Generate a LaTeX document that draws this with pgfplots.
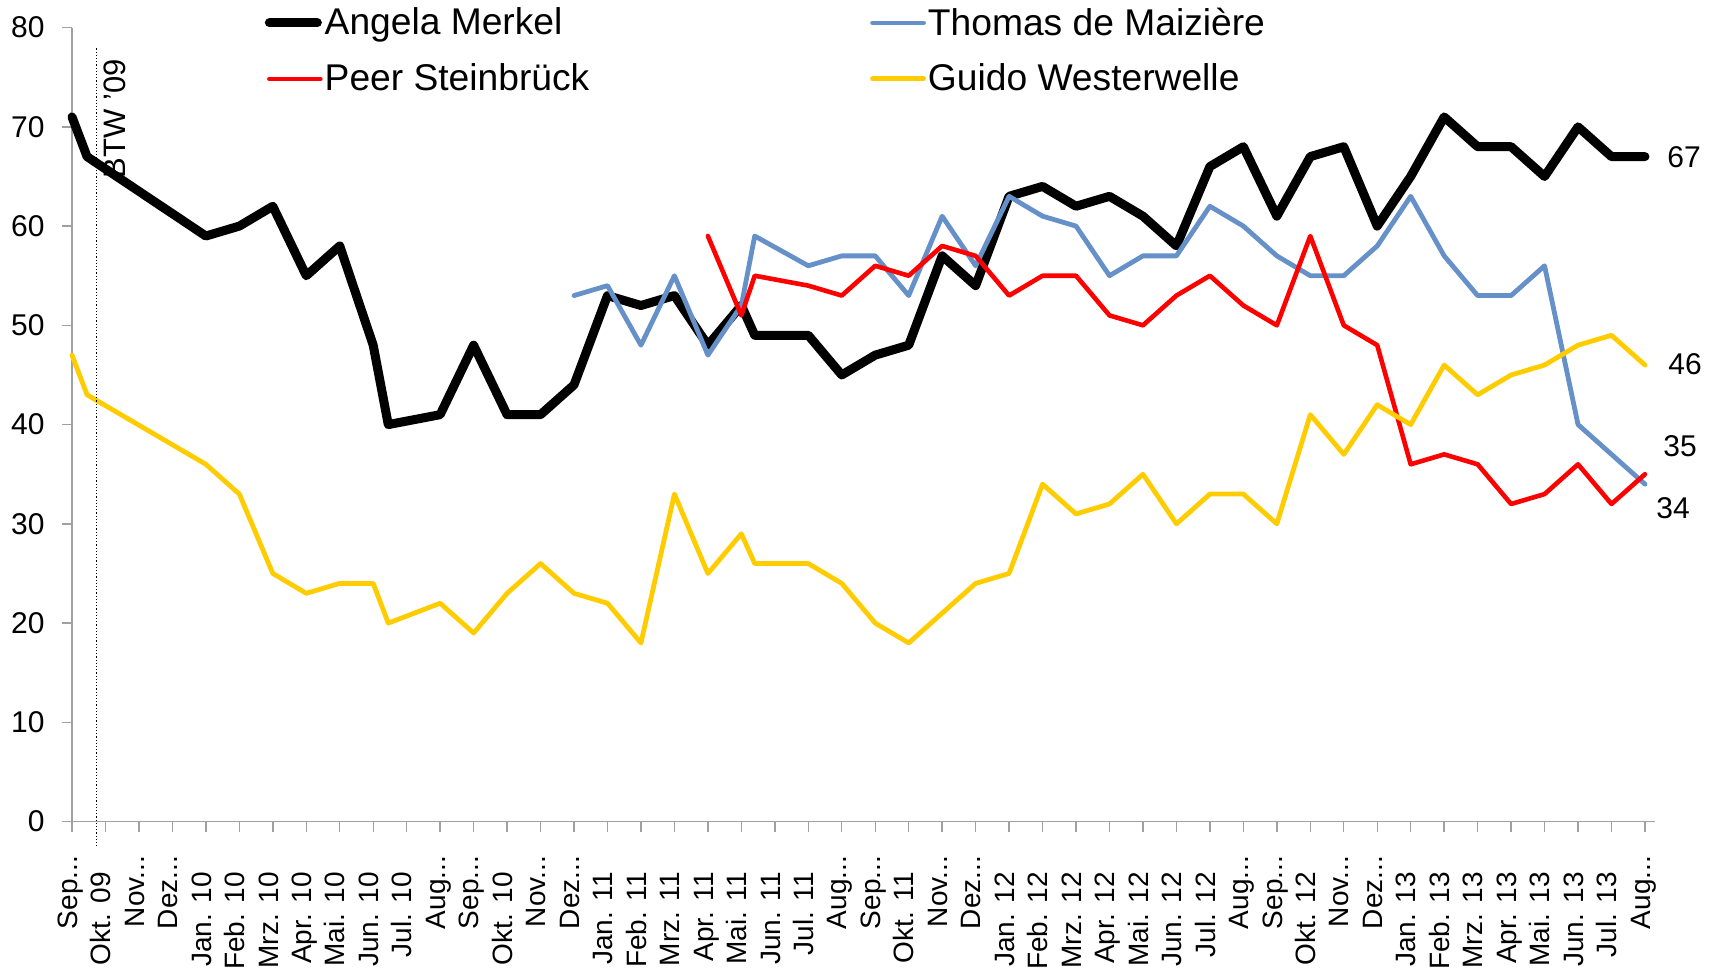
\documentclass[border=0pt]{standalone}
\usepackage{fontspec}
\setmainfont{Liberation Sans}
\usepackage{pgfplots}
\pgfplotsset{compat=1.18}
\definecolor{mblue}{HTML}{6690C8}
\definecolor{mred}{HTML}{FF0000}
\definecolor{myellow}{HTML}{FFCC00}
\definecolor{axgray}{HTML}{A0A0A0}
\newcommand{\fl}[1]{#1\hspace*{8.2pt}}
\newcommand{\dd}{...}
\pgfplotsset{thinleg/.style={legend image code/.code={\draw[##1] (0pt,0pt) -- (25.5pt,0pt);}}}
\begin{document}
\begin{tikzpicture}
\path[use as bounding box] (-36pt,-73.7pt) rectangle (820.5pt,410.8pt);
\begin{axis}[
  at={(0,0)}, anchor=south west,
  scale only axis, width=791.5pt, height=397pt,
  xmin=0, xmax=47.3, ymin=0, ymax=80,
  clip=false,
  axis x line*=bottom, axis y line*=left,
  axis line style={-, axgray, line width=0.8pt},
  tick align=outside, major tick length=5pt,
  tick style={axgray, line width=0.7pt},
  xtick={0,...,47},
  xticklabels={Sep\dd,\fl{Okt. 09},Nov\dd,Dez\dd,\fl{Jan. 10},\fl{Feb. 10},\fl{Mrz. 10},\fl{Apr. 10},\fl{Mai. 10},\fl{Jun. 10},\fl{Jul. 10},Aug\dd,Sep\dd,\fl{Okt. 10},Nov\dd,Dez\dd,\fl{Jan. 11},\fl{Feb. 11},\fl{Mrz. 11},\fl{Apr. 11},\fl{Mai. 11},\fl{Jun. 11},\fl{Jul. 11},Aug\dd,Sep\dd,\fl{Okt. 11},Nov\dd,Dez\dd,\fl{Jan. 12},\fl{Feb. 12},\fl{Mrz. 12},\fl{Apr. 12},\fl{Mai. 12},\fl{Jun. 12},\fl{Jul. 12},Aug\dd,Sep\dd,\fl{Okt. 12},Nov\dd,Dez\dd,\fl{Jan. 13},\fl{Feb. 13},\fl{Mrz. 13},\fl{Apr. 13},\fl{Mai. 13},\fl{Jun. 13},\fl{Jul. 13},Aug\dd},
  xticklabel style={yshift=-12pt, rotate=90, anchor=east, inner sep=0pt, text height=0.72em, text depth=0.2em, font=\fontsize{14}{17}\selectfont},
  ytick={0,10,...,80},
  /pgf/number format/assume math mode=true,
  yticklabel style={anchor=east, inner sep=0pt, xshift=-8.5pt, font=\fontsize{15}{17}\selectfont},
  legend style={at={(0.1216,0.9708)}, anchor=west, draw=none, fill=none, inner sep=0pt,
    font=\fontsize{18.6}{21}\selectfont, nodes={inner sep=1pt},
    /tikz/every even column/.append style={column sep=139.4pt}, row sep=10.9pt},
  legend columns=2,
  legend cell align=left,
  legend image code/.code={\draw[#1] (0pt,0pt) -- (24pt,0pt);},
]
\addplot[black, line width=4.5pt, line join=round, line cap=round] coordinates {
(0,71) (0.45,67) (4,59) (5,60) (6,62) (7,55) (8,58) (9,48) (9.45,40) (11,41) (12,48) (13,41) (14,41) (15,44) (16,53) (17,52) (18,53) (19,48) (20,52) (20.4,49) (22,49) (23,45) (24,47) (25,48) (26,57) (27,54) (28,63) (29,64) (30,62) (31,63) (32,61) (33,58) (34,66) (35,68) (36,61) (37,67) (38,68) (39,60) (40,65) (41,71) (42,68) (43,68) (44,65) (45,70) (46,67) (47,67)};
\addlegendentry{Angela Merkel}
\addplot[mblue, line width=2.4pt, line join=round, line cap=round, thinleg] coordinates {
(15,53) (16,54) (17,48) (18,55) (19,47) (20,52) (20.4,59) (22,56) (23,57) (24,57) (25,53) (26,61) (27,56) (28,63) (29,61) (30,60) (31,55) (32,57) (33,57) (34,62) (35,60) (36,57) (37,55) (38,55) (39,58) (40,63) (41,57) (42,53) (43,53) (44,56) (45,40) (47,34)};
\addlegendentry{Thomas de Maizière}
\addplot[mred, line width=2.3pt, line join=round, line cap=round, thinleg] coordinates {
(19,59) (20,51) (20.4,55) (22,54) (23,53) (24,56) (25,55) (26,58) (27,57) (28,53) (29,55) (30,55) (31,51) (32,50) (33,53) (34,55) (35,52) (36,50) (37,59) (38,50) (39,48) (40,36) (41,37) (42,36) (43,32) (44,33) (45,36) (46,32) (47,35)};
\addlegendentry{Peer Steinbrück}
\addplot[myellow, line width=2.4pt, line join=round, line cap=round, thinleg] coordinates {
(0,47) (0.45,43) (4,36) (5,33) (6,25) (7,23) (8,24) (9,24) (9.45,20) (11,22) (12,19) (13,23) (14,26) (15,23) (16,22) (17,18) (18,33) (19,25) (20,29) (20.4,26) (22,26) (23,24) (24,20) (25,18) (26,21) (27,24) (28,25) (29,34) (30,31) (31,32) (32,35) (33,30) (34,33) (35,33) (36,30) (37,41) (38,37) (39,42) (40,40) (41,46) (42,43) (43,45) (44,46) (45,48) (46,49) (47,46)};
\addlegendentry{Guido Westerwelle}
\draw[black, densely dotted, line width=0.6pt] (axis cs:0.725,77.9) -- (axis cs:0.725,-2.4);
\node[rotate=90, anchor=north west, inner sep=0pt, font=\fontsize{15.5}{18}\selectfont] at (axis cs:0.925,64.8) {BTW ’09};
\node[anchor=west, inner sep=0pt, xshift=11pt, font=\fontsize{15}{18}\selectfont] at (axis cs:47,66.9) {67};
\node[anchor=west, inner sep=0pt, xshift=11.5pt, font=\fontsize{15}{18}\selectfont] at (axis cs:47,46.1) {46};
\node[anchor=west, inner sep=0pt, xshift=9pt, font=\fontsize{15}{18}\selectfont] at (axis cs:47,37.8) {35};
\node[anchor=west, inner sep=0pt, xshift=5.5pt, font=\fontsize{15}{18}\selectfont] at (axis cs:47,31.6) {34};
\end{axis}
\end{tikzpicture}
\end{document}
